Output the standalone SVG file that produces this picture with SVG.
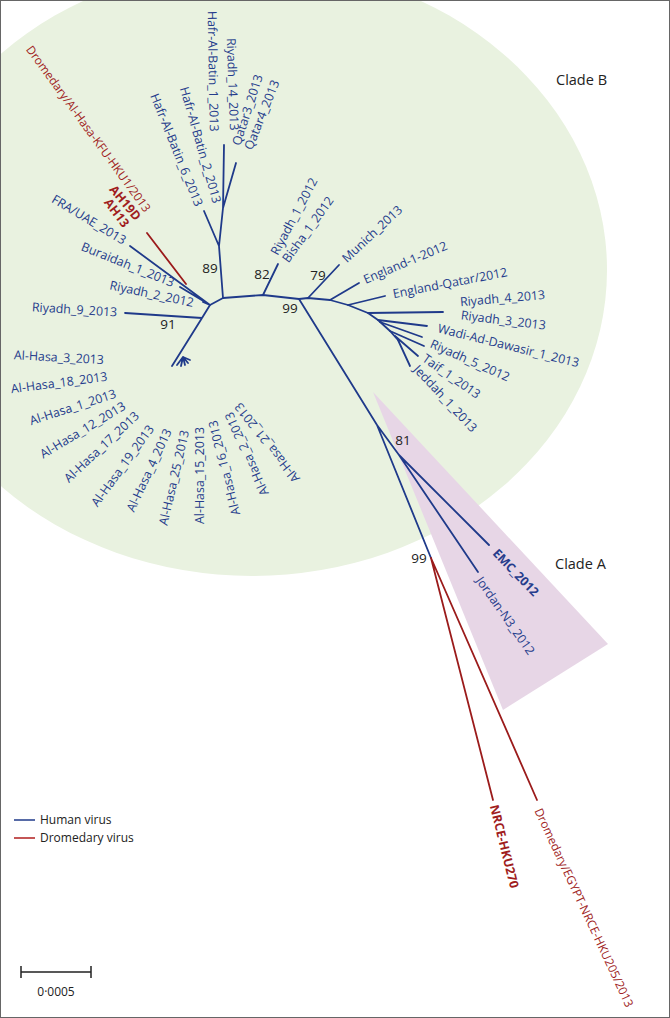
<svg xmlns="http://www.w3.org/2000/svg" width="670" height="1018" viewBox="0 0 670 1018">
<style>
.b{stroke:#1f3a8a;stroke-width:1.8;fill:none;stroke-linecap:round;stroke-linejoin:round}
.r{stroke:#9b1b1b;stroke-width:1.8;fill:none;stroke-linecap:round;stroke-linejoin:round}
text{font-family:"Open Sans","DejaVu Sans",sans-serif;font-size:12.4px}
.tb{fill:#253c8c}
.tr{fill:#a01d1d}
.lg{font-size:11.9px}
.bd{font-weight:bold}
.n{fill:#222;font-size:13.5px;text-anchor:middle}
.k{fill:#222;font-size:12px}
.cl{fill:#222;font-size:14.5px}
</style>
<rect width="670" height="1018" fill="#fff"/>
<ellipse id="cladeB-area" cx="252" cy="270" rx="355" ry="306" fill="#e9f2e0"/>
<polygon id="cladeA-area" points="373,392 608,644 503,710" fill="#e7d6e6"/>

<g id="connectors">
<path class="b" d="M130,246 L210,305 M180,287 L210,305 M203,302 L210,305 M125,313 L202,318 M210,305 L202,318 L172,366"/>
<path class="b" stroke-width="1.4" d="M183,357 L177,365 M183,357 L181,366 M183,357 L185,365 M183,357 L188,363 M183,357 L190,360"/>
<path class="b" d="M210,305 L223,298 L263,295 L299,299 L308,298 L330,300 L348,305 L368,313 L378,320 L390,331 L398,340"/>
<path class="b" d="M223,298 L219,246 L223,208 L224,145 M223,208 L236,163 M219,246 L204,211"/>
<path class="b" d="M263,295 L278,264 M308,298 L339,265 M330,300 L359,283 M348,305 L385,296 M368,313 L443,312 M378,320 L427,326 M380,322 L422,337 M390,331 L424,346 M395,336 L418,356 M398,340 L410,366"/>
<path class="b" d="M299,299 L377,425 L431,558 M377,425 L399,455 L489,545 M399,455 L478,572"/>
<path class="r" d="M147,233 L186,284 M431,558 L493,800 M431,558 L537,800"/>
</g>

<g id="labels-dromedary">
<text class="tr lg" transform="translate(29,47) rotate(54)" dy=".35em">Dromedary/Al-Hasa-KFU-HKU1/2013</text>
<text class="tr bd" transform="translate(112,187) rotate(50)" dy=".35em">AH19D</text>
<text class="tr bd" transform="translate(107,200) rotate(53)" dy=".35em">AH13</text>
<text class="tr bd" transform="translate(494,805) rotate(76)" dy=".35em">NRCE-HKU270</text>
<text class="tr lg" transform="translate(538,809) rotate(65)" dy=".35em">Dromedary/EGYPT-NRCE-HKU205/2013</text>
</g>

<g id="labels-cladeB-left">
<text class="tb" transform="translate(53,198) rotate(31)" dy=".35em">FRA/UAE_2013</text>
<text class="tb" transform="translate(82,246) rotate(22)" dy=".35em">Buraidah_1_2013</text>
<text class="tb" transform="translate(110,285) rotate(12)" dy=".35em">Riyadh_2_2012</text>
<text class="tb" transform="translate(32,307) rotate(3.5)" dy=".35em">Riyadh_9_2013</text>
</g>

<g id="labels-cladeB-top">
<text class="tb" transform="translate(154,94) rotate(68)" dy=".35em">Hafr-Al-Batin_6_2013</text>
<text class="tb" transform="translate(184,87) rotate(74)" dy=".35em">Hafr-Al-Batin_2_2013</text>
<text class="tb" transform="translate(212,11) rotate(89)" dy=".35em">Hafr-Al-Batin_1_2013</text>
<text class="tb" transform="translate(231,38) rotate(88)" dy=".35em">Riyadh_14_2013</text>
<text class="tb" transform="translate(236,145) rotate(-72)" dy=".35em">Qatar3_2013</text>
<text class="tb" transform="translate(248,149) rotate(-68)" dy=".35em">Qatar4_2013</text>
<text class="tb" transform="translate(274,254) rotate(-62)" dy=".35em">Riyadh_1_2012</text>
<text class="tb" transform="translate(285,261) rotate(-54)" dy=".35em">Bisha_1_2012</text>
</g>

<g id="labels-cladeB-right">
<text class="tb" transform="translate(344,260) rotate(-43)" dy=".35em">Munich_2013</text>
<text class="tb" transform="translate(364,280) rotate(-23)" dy=".35em">England-1-2012</text>
<text class="tb" transform="translate(393,294) rotate(-11)" dy=".35em">England-Qatar/2012</text>
<text class="tb" transform="translate(460,302) rotate(-5)" dy=".35em">Riyadh_4_2013</text>
<text class="tb" transform="translate(461,315) rotate(7)" dy=".35em">Riyadh_3_2013</text>
<text class="tb" transform="translate(438,328) rotate(14)" dy=".35em">Wadi-Ad-Dawasir_1_2013</text>
<text class="tb" transform="translate(431,343) rotate(24)" dy=".35em">Riyadh_5_2012</text>
<text class="tb" transform="translate(424,357) rotate(35)" dy=".35em">Taif_1_2013</text>
<text class="tb" transform="translate(416,367) rotate(47)" dy=".35em">Jeddah_1_2013</text>
</g>

<g id="labels-alhasa">
<text class="tb" transform="translate(14,355) rotate(3)" dy=".35em">Al-Hasa_3_2013</text>
<text class="tb" transform="translate(11,389) rotate(-7.5)" dy=".35em">Al-Hasa_18_2013</text>
<text class="tb" transform="translate(30,421) rotate(-18)" dy=".35em">Al-Hasa_1_2013</text>
<text class="tb" transform="translate(41,455) rotate(-31)" dy=".35em">Al-Hasa_12_2013</text>
<text class="tb" transform="translate(66,480) rotate(-43)" dy=".35em">Al-Hasa_17_2013</text>
<text class="tb" transform="translate(94,505) rotate(-54)" dy=".35em">Al-Hasa_19_2013</text>
<text class="tb" transform="translate(130,511) rotate(-65)" dy=".35em">Al-Hasa_4_2013</text>
<text class="tb" transform="translate(163,525) rotate(-77)" dy=".35em">Al-Hasa_25_2013</text>
<text class="tb" transform="translate(200,524) rotate(-90)" dy=".35em">Al-Hasa_15_2013</text>
<text class="tb" transform="translate(236,515) rotate(-104)" dy=".35em">Al-Hasa_16_2013</text>
<text class="tb" transform="translate(265,495) rotate(-114)" dy=".35em">Al-Hasa_2_2013</text>
<text class="tb" transform="translate(297,481) rotate(-128)" dy=".35em">Al-Hasa_21_2013</text>
</g>

<g id="labels-cladeA">
<text class="tb bd" transform="translate(495,551) rotate(46)" dy=".35em">EMC_2012</text>
<text class="tb" transform="translate(479,578) rotate(55)" dy=".35em">Jordan-N3_2012</text>
</g>

<g id="bootstrap">
<text class="n" x="210" y="273">89</text>
<text class="n" x="262" y="279">82</text>
<text class="n" x="318" y="280">79</text>
<text class="n" x="290" y="313">99</text>
<text class="n" x="168" y="329">91</text>
<text class="n" x="403" y="445">81</text>
<text class="n" x="419" y="563">99</text>
</g>

<g id="clade-names">
<text class="cl" x="556" y="85">Clade B</text>
<text class="cl" x="555" y="569">Clade A</text>
</g>

<g id="legend">
<line x1="14" y1="820" x2="35" y2="820" stroke="#1f3a8a" stroke-width="1.5"/>
<text class="k" x="40" y="824">Human virus</text>
<line x1="14" y1="838" x2="35" y2="838" stroke="#b01e1e" stroke-width="1.5"/>
<text class="k" x="40" y="842">Dromedary virus</text>
</g>

<g id="scale-bar">
<path d="M21,972 H91 M21,966 V978 M91,966 V978" stroke="#222" stroke-width="1.5" fill="none"/>
<text class="k" x="56" y="996" text-anchor="middle">0·0005</text>
</g>

<rect x="0.5" y="0.5" width="669" height="1017" fill="none" stroke="#666" stroke-width="1"/>
</svg>
